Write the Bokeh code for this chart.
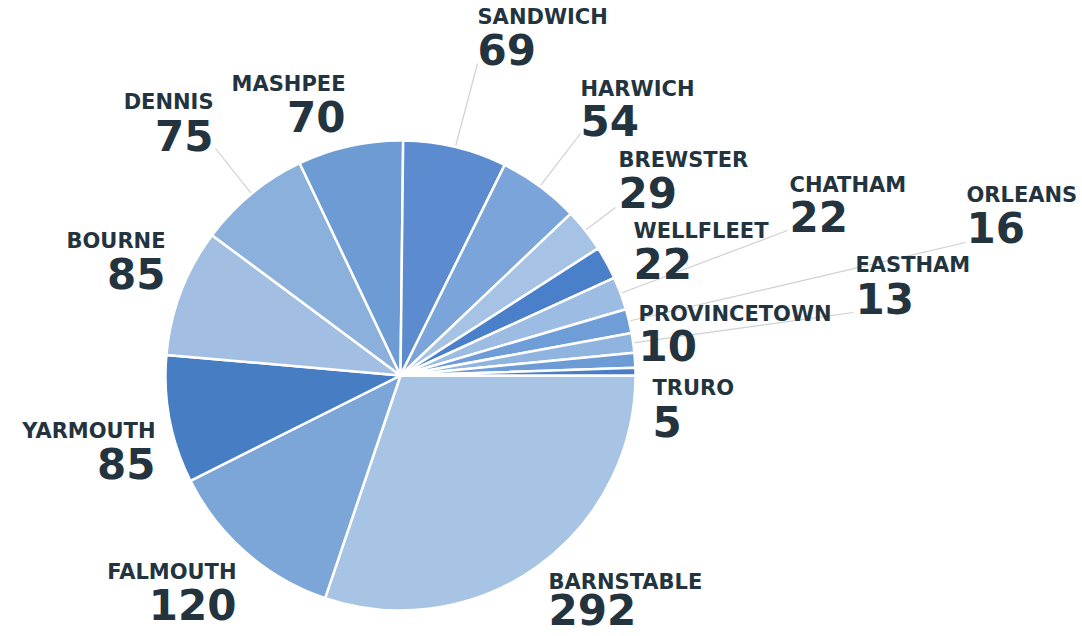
import numpy as np
from bokeh.plotting import figure
from bokeh.models import ColumnDataSource
from bokeh.core.properties import value
from bokeh.embed import file_html
from bokeh.resources import INLINE

# ---- data ----
towns = ["BARNSTABLE", "FALMOUTH", "YARMOUTH", "BOURNE", "DENNIS", "MASHPEE",
         "SANDWICH", "HARWICH", "BREWSTER", "WELLFLEET", "CHATHAM", "ORLEANS",
         "EASTHAM", "PROVINCETOWN", "TRURO"]
counts = [292, 120, 85, 85, 75, 70, 69, 54, 29, 22, 22, 16, 13, 10, 5]
colors = ["#a7c4e4", "#7ca6d7", "#477dc2", "#a2bfe3", "#8cb0dc", "#6d9bd4",
          "#5c8ccf", "#7aa4da", "#a6c3e6", "#4a80c9", "#9dbce3", "#6e9dd7",
          "#90b4e0", "#6c9bd5", "#4a7fc6"]

# ---- layout (pixel space) ----
W, H = 1082, 636
def sx(x):  # screen x -> data x
    return x
def sy(y):  # screen y -> data y
    return H - y

CX, CY, R = sx(400), sy(375), 235

# label anchors: screen x, name cap-centre y, number cap-centre y, align
label_pos = {
    "SANDWICH": (477, 16.5, 48.5, "left"),
    "HARWICH": (580, 88, 119.5, "left"),
    "BREWSTER": (618, 159.5, 192, "left"),
    "WELLFLEET": (633, 230.5, 262.5, "left"),
    "CHATHAM": (789, 184.5, 216, "left"),
    "ORLEANS": (966, 194.5, 226.5, "left"),
    "EASTHAM": (855, 264.5, 297.5, "left"),
    "PROVINCETOWN": (638, 313.5, 345, "left"),
    "TRURO": (652, 387.5, 421, "left"),
    "BARNSTABLE": (548, 581, 608.5, "left"),
    "FALMOUTH": (236, 571.5, 604, "right"),
    "YARMOUTH": (155, 430, 463, "right"),
    "BOURNE": (165, 240, 272.5, "right"),
    "DENNIS": (213, 101, 134.5, "right"),
    "MASHPEE": (345, 83, 116, "right"),
}
# leader line end points (screen)
leader_end = {
    "SANDWICH": (477, 63),
    "HARWICH": (580, 133),
    "BREWSTER": (615, 207),
    "CHATHAM": (787, 230),
    "ORLEANS": (965, 242),
    "EASTHAM": (853, 312),
    "DENNIS": (215, 148),
}

vals = np.array(counts, dtype=float)
frac = vals / vals.sum() * 2 * np.pi
cum = np.cumsum(frac)
starts = -(cum - frac)
ends = -cum
mids = (starts + ends) / 2

src = ColumnDataSource(dict(start=starts, end=ends, color=colors, town=towns, count=counts))

p = figure(width=W, height=H, x_range=(0, W), y_range=(0, H),
           output_backend="svg", toolbar_location=None, min_border=0)
p.axis.visible = False
p.grid.visible = False
p.outline_line_color = None
p.background_fill_color = "white"
p.border_fill_color = "white"

# leader lines
xs, ys = [], []
for t, m in zip(towns, mids):
    if t in leader_end:
        ex, ey = leader_end[t]
        xs.append([CX + (R - 2) * np.cos(m), sx(ex)])
        ys.append([CY + (R - 2) * np.sin(m), sy(ey)])
p.multi_line(xs, ys, line_color="#d0d0d0", line_width=1.2)

p.wedge(x=CX, y=CY, radius=R, start_angle="start", end_angle="end",
        direction="clock", fill_color="color", line_color="white",
        line_width=2.5, source=src)

# labels
nx, ny, nt, na = [], [], [], []
vx, vy, vt = [], [], []
for t, c in zip(towns, counts):
    x, yn, yv, al = label_pos[t]
    nx.append(sx(x)); ny.append(sy(yn)); nt.append(t); na.append(al)
    vx.append(sx(x)); vy.append(sy(yv)); vt.append(str(c))

name_src = ColumnDataSource(dict(x=nx, y=ny, text=nt, align=na))
num_src = ColumnDataSource(dict(x=vx, y=vy, text=vt, align=na))

p.text(x="x", y="y", text="text", text_align="align", text_baseline="alphabetic",
       text_font=value("DejaVu Sans"), text_font_style="bold",
       text_font_size="21px", text_color="#23343f", source=name_src)
p.text(x="x", y="y", text="text", text_align="align", text_baseline="alphabetic",
       text_font=value("DejaVu Sans"), text_font_style="bold",
       text_font_size="42px", text_color="#23343f", source=num_src)

open("out.html", "w").write(file_html(p, INLINE))
